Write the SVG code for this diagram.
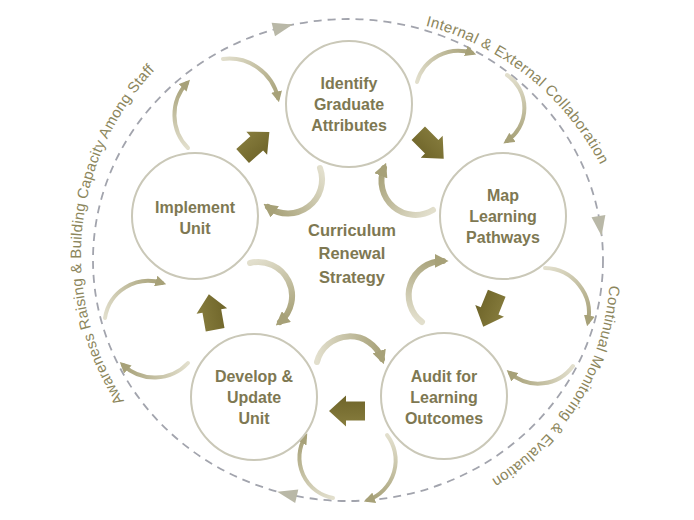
<svg xmlns="http://www.w3.org/2000/svg" width="694" height="520" viewBox="0 0 694 520">
<style>
.node circle{fill:#fff;stroke:#cac8b8;stroke-width:2}
.node text{font-family:"Liberation Sans",Arial,sans-serif;font-weight:700;font-size:16px;fill:#7e7852;text-anchor:middle}
.center text{font-family:"Liberation Sans",Arial,sans-serif;font-weight:700;font-size:16.5px;fill:#7e7852;text-anchor:middle}
.lbl{font-family:"Liberation Sans",Arial,sans-serif;font-size:15px;fill:#8c865c}
.ring{fill:none;stroke:#a2a4ad;stroke-width:1.8;stroke-dasharray:8 6}
.tri{fill:#b9b8a7}
.blk{fill:url(#gBlk)}
.ci{fill:none;stroke-width:6;stroke-linecap:round;marker-end:url(#hi)}
.co{fill:none;stroke-width:4;stroke-linecap:round;marker-end:url(#ho)}
</style>
<defs>
<linearGradient id="gBlk" x1="0" y1="0" x2="0" y2="1"><stop offset="0" stop-color="#877d3e"/><stop offset="1" stop-color="#6e6429"/></linearGradient>
<marker id="hi" viewBox="0 0 10 10" refX="6" refY="5" markerWidth="14" markerHeight="14" markerUnits="userSpaceOnUse" orient="auto"><path d="M0,0 L10,5 L0,10 Z" fill="#a7a178"/></marker>
<marker id="ho" viewBox="0 0 10 10" refX="6" refY="5" markerWidth="11" markerHeight="11" markerUnits="userSpaceOnUse" orient="auto"><path d="M0,0 L10,5 L0,10 Z" fill="#a7a178"/></marker>
<path id="blkArrow" d="M-18,-9.5 L1,-9.5 L1,-15.5 L18,0 L1,15.5 L1,9.5 L-18,9.5 Z"/>
<path id="tri" d="M10,0 L-10,-7 L-10,7 Z"/>
<path id="p1" d="M425.6,25.7 A274,274 0 0 1 621.7,220.1"/>
<path id="p2" d="M609.4,285.3 A248,248 0 0 1 426.2,507.5"/>
<path id="p3" d="M124.2,401 A268,268 0 0 1 195.3,35.5"/>
<linearGradient id="gF" gradientUnits="userSpaceOnUse" x1="320" y1="168" x2="268" y2="207"><stop offset="0" stop-color="#e2dfcd"/><stop offset="1" stop-color="#a7a178"/></linearGradient>
<linearGradient id="gG" gradientUnits="userSpaceOnUse" x1="433" y1="210" x2="384" y2="168"><stop offset="0" stop-color="#e2dfcd"/><stop offset="1" stop-color="#a7a178"/></linearGradient>
<linearGradient id="gH" gradientUnits="userSpaceOnUse" x1="422" y1="322" x2="443" y2="261"><stop offset="0" stop-color="#e2dfcd"/><stop offset="1" stop-color="#a7a178"/></linearGradient>
<linearGradient id="gI" gradientUnits="userSpaceOnUse" x1="317" y1="362" x2="382" y2="359"><stop offset="0" stop-color="#e2dfcd"/><stop offset="1" stop-color="#a7a178"/></linearGradient>
<linearGradient id="gJ" gradientUnits="userSpaceOnUse" x1="250" y1="263" x2="280" y2="322"><stop offset="0" stop-color="#e2dfcd"/><stop offset="1" stop-color="#a7a178"/></linearGradient>
<linearGradient id="gA2" gradientUnits="userSpaceOnUse" x1="188" y1="148" x2="187" y2="83"><stop offset="0" stop-color="#e2dfcd"/><stop offset="1" stop-color="#a7a178"/></linearGradient>
<linearGradient id="gA1" gradientUnits="userSpaceOnUse" x1="223" y1="59" x2="278" y2="98"><stop offset="0" stop-color="#e2dfcd"/><stop offset="1" stop-color="#a7a178"/></linearGradient>
<linearGradient id="gB1" gradientUnits="userSpaceOnUse" x1="417" y1="82" x2="472" y2="53"><stop offset="0" stop-color="#e2dfcd"/><stop offset="1" stop-color="#a7a178"/></linearGradient>
<linearGradient id="gB2" gradientUnits="userSpaceOnUse" x1="507" y1="75" x2="507" y2="141"><stop offset="0" stop-color="#e2dfcd"/><stop offset="1" stop-color="#a7a178"/></linearGradient>
<linearGradient id="gC1" gradientUnits="userSpaceOnUse" x1="545" y1="268" x2="588" y2="322"><stop offset="0" stop-color="#e2dfcd"/><stop offset="1" stop-color="#a7a178"/></linearGradient>
<linearGradient id="gC2" gradientUnits="userSpaceOnUse" x1="573" y1="366" x2="510" y2="373"><stop offset="0" stop-color="#e2dfcd"/><stop offset="1" stop-color="#a7a178"/></linearGradient>
<linearGradient id="gD1" gradientUnits="userSpaceOnUse" x1="387" y1="435" x2="368" y2="500"><stop offset="0" stop-color="#e2dfcd"/><stop offset="1" stop-color="#a7a178"/></linearGradient>
<linearGradient id="gD2" gradientUnits="userSpaceOnUse" x1="333" y1="498" x2="305" y2="437"><stop offset="0" stop-color="#e2dfcd"/><stop offset="1" stop-color="#a7a178"/></linearGradient>
<linearGradient id="gE1" gradientUnits="userSpaceOnUse" x1="188" y1="363" x2="123" y2="365"><stop offset="0" stop-color="#e2dfcd"/><stop offset="1" stop-color="#a7a178"/></linearGradient>
<linearGradient id="gE2" gradientUnits="userSpaceOnUse" x1="105" y1="318" x2="162" y2="283"><stop offset="0" stop-color="#e2dfcd"/><stop offset="1" stop-color="#a7a178"/></linearGradient>
</defs>
<rect width="694" height="520" fill="#fff"/>
<g id="outer-cycle">
<ellipse class="ring" cx="348" cy="260" rx="255" ry="241"/>
<use href="#tri" class="tri" transform="translate(283,27) rotate(-14)"/>
<use href="#tri" class="tri" transform="translate(600,226) rotate(81)"/>
<use href="#tri" class="tri" transform="translate(287,494) rotate(193)"/>
</g>
<g id="cycle-labels">
<text class="lbl"><textPath href="#p1" textLength="230" lengthAdjust="spacing">Internal &amp; External Collaboration</textPath></text>
<text class="lbl"><textPath href="#p2" textLength="236" lengthAdjust="spacing">Continual Monitoring &amp; Evaluation</textPath></text>
<text class="lbl"><textPath href="#p3" textLength="358" lengthAdjust="spacing">Awareness Raising &amp; Building Capacity Among Staff</textPath></text>
</g>
<g id="connectors">
<use href="#blkArrow" class="blk" transform="translate(256,144) rotate(-42)"/>
<use href="#blkArrow" class="blk" transform="translate(431,146) rotate(45)"/>
<use href="#blkArrow" class="blk" transform="translate(490,310) rotate(112)"/>
<use href="#blkArrow" class="blk" transform="translate(347,411) rotate(180)"/>
<use href="#blkArrow" class="blk" transform="translate(212,312) rotate(-100)"/>
<path class="ci" stroke="url(#gF)" d="M320,168 A34,34 0 0 1 268,207"/>
<path class="ci" stroke="url(#gG)" d="M433,210 A34,34 0 0 1 384,168"/>
<path class="ci" stroke="url(#gH)" d="M422,322 A34,34 0 0 1 443,261"/>
<path class="ci" stroke="url(#gI)" d="M317,362 A34,34 0 0 1 382,359"/>
<path class="ci" stroke="url(#gJ)" d="M250,263 A34,34 0 0 1 280,322"/>
<path class="co" stroke="url(#gA2)" d="M188,148 A47,47 0 0 1 187,83"/>
<path class="co" stroke="url(#gA1)" d="M223,59 A50,50 0 0 1 278,98"/>
<path class="co" stroke="url(#gB1)" d="M417,82 A43,43 0 0 1 472,53"/>
<path class="co" stroke="url(#gB2)" d="M507,75 A40,40 0 0 1 507,141"/>
<path class="co" stroke="url(#gC1)" d="M545,268 A45,45 0 0 1 588,322"/>
<path class="co" stroke="url(#gC2)" d="M573,366 A43,43 0 0 1 510,373"/>
<path class="co" stroke="url(#gD1)" d="M387,435 A42,42 0 0 1 368,500"/>
<path class="co" stroke="url(#gD2)" d="M333,498 A41,41 0 0 1 305,437"/>
<path class="co" stroke="url(#gE1)" d="M188,363 A46,46 0 0 1 123,365"/>
<path class="co" stroke="url(#gE2)" d="M105,318 A44,44 0 0 1 162,283"/>
</g>
<g id="node-identify" class="node">
<circle cx="349" cy="104" r="63"/>
<text x="349" y="89">Identify</text><text x="349" y="110">Graduate</text><text x="349" y="131">Attributes</text>
</g>
<g id="node-map" class="node">
<circle cx="503" cy="216" r="63"/>
<text x="503" y="201">Map</text><text x="503" y="222">Learning</text><text x="503" y="243">Pathways</text>
</g>
<g id="node-audit" class="node">
<circle cx="444" cy="396" r="63"/>
<text x="444" y="382">Audit for</text><text x="444" y="403">Learning</text><text x="444" y="424">Outcomes</text>
</g>
<g id="node-develop" class="node">
<circle cx="254" cy="397" r="63"/>
<text x="254" y="382">Develop &amp;</text><text x="254" y="403">Update</text><text x="254" y="424">Unit</text>
</g>
<g id="node-implement" class="node">
<circle cx="195" cy="216" r="63"/>
<text x="195" y="213">Implement</text><text x="195" y="234">Unit</text>
</g>
<g id="center" class="center">
<text x="352" y="236">Curriculum</text><text x="352" y="259">Renewal</text><text x="352" y="283">Strategy</text>
</g>
</svg>
